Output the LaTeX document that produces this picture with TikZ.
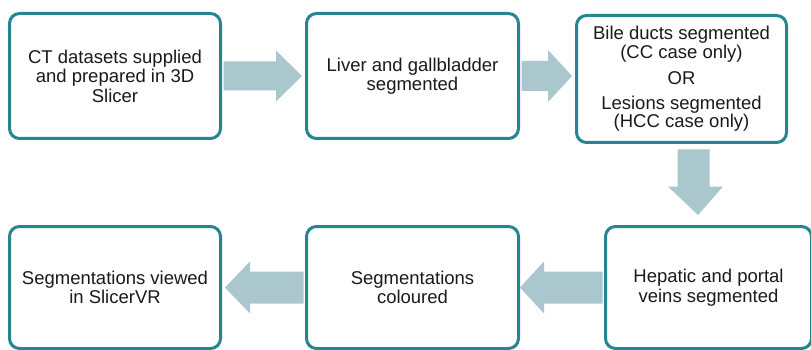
\documentclass[tikz,border=0pt]{standalone}
\usepackage{fontspec}
\setmainfont{Liberation Sans}
\usetikzlibrary{calc}
\definecolor{boxline}{RGB}{38,133,145}
\definecolor{arrowfill}{RGB}{170,199,206}
\definecolor{txt}{RGB}{26,26,26}
\begin{document}
\begin{tikzpicture}[x=1pt,y=-1pt,
  stepbox/.style={draw=boxline, line width=3pt, rounded corners=10pt, fill=white,
    align=center, text=txt, inner sep=0pt,
    font=\fontsize{18.5}{19.5}\selectfont},
  arr/.style={fill=arrowfill, draw=none}]
\useasboundingbox (0,0) rectangle (811,350);
\clip (0,0) rectangle (811,350);
% nodes
\node[stepbox, minimum width=211pt, minimum height=125pt] (b1) at (115,76)
  {CT datasets supplied\\and prepared in 3D\\Slicer};
\node[stepbox, minimum width=212pt, minimum height=125pt] (b2) at (412.5,76)
  {Liver and gallbladder\\segmented};
\node[stepbox, minimum width=210pt, minimum height=127pt, font=\fontsize{18.5}{18.5}\selectfont] (b3) at (681.5,79)
  {Bile ducts segmented\\(CC case only)\\[8pt]OR\\[6pt]Lesions segmented\\(HCC case only)};
\node[stepbox, minimum width=211pt, minimum height=122pt] (b4) at (115,287.5)
  {Segmentations viewed\\in SlicerVR};
\node[stepbox, minimum width=212pt, minimum height=122pt] (b5) at (412.5,287.5)
  {Segmentations\\coloured};
\node[stepbox, minimum width=206pt, minimum height=122pt] (b6) at (708.5,287.5)
  {Hepatic and portal\\veins segmented};
% block arrows between the boxes
\fill[arr] ($(b1.east)+(1.5,-14.5)$) -- ($(b1.east)+(54,-14.5)$) -- ($(b1.east)+(54,-25.5)$)
  -- ($(b2.west)+(-3,0)$) -- ($(b1.east)+(54,25.5)$) -- ($(b1.east)+(54,14.5)$)
  -- ($(b1.east)+(1.5,14.5)$) -- cycle;
\fill[arr] ($(b2.east)+(1.5,-15)$) -- ($(b2.east)+(28,-15)$) -- ($(b2.east)+(28,-26)$)
  -- ($(b3.west)+(-3,-3)$) -- ($(b2.east)+(28,26)$) -- ($(b2.east)+(28,15)$)
  -- ($(b2.east)+(1.5,15)$) -- cycle;
\fill[arr] ($(b3.south)+(-4,5.5)$) -- ($(b3.south)+(28,5.5)$) -- ($(b3.south)+(28,42.5)$)
  -- ($(b3.south)+(41.5,42.5)$) -- ($(b6.north)+(-10.5,-10)$) -- ($(b3.south)+(-13.5,42.5)$)
  -- ($(b3.south)+(-4,42.5)$) -- cycle;
\fill[arr] ($(b5.west)+(-1.5,-16)$) -- ($(b5.west)+(-55,-16)$) -- ($(b5.west)+(-55,-26)$)
  -- ($(b4.east)+(3,0)$) -- ($(b5.west)+(-55,26)$) -- ($(b5.west)+(-55,16)$)
  -- ($(b5.west)+(-1.5,16)$) -- cycle;
\fill[arr] ($(b6.west)+(-1.5,-16)$) -- ($(b6.west)+(-60,-16)$) -- ($(b6.west)+(-60,-26)$)
  -- ($(b5.east)+(0,0)$) -- ($(b6.west)+(-60,26)$) -- ($(b6.west)+(-60,16)$)
  -- ($(b6.west)+(-1.5,16)$) -- cycle;
\end{tikzpicture}
\end{document}
